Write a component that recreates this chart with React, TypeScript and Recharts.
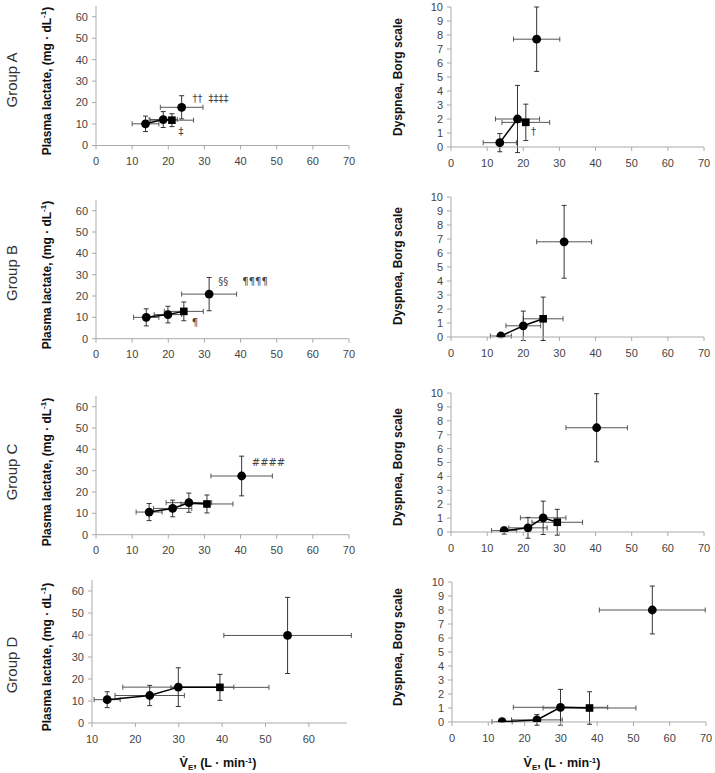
import React from 'react';
import { ScatterChart, Scatter, XAxis, YAxis, ErrorBar } from 'recharts';

type Pt = { x: number; ex: number; y: number; ey: number; phase: string };
type Mark = { x: number; y: number; text: string; anchor: string };

// x: minute ventilation (L/min), y: lactate (mg/dL) or Borg dyspnea
const groupALactate: Pt[] = [
  { x: 13.7, ex: 3.7, y: 10.1, ey: 3.6, phase: 'rest' },
  { x: 18.6, ex: 3.9, y: 12.1, ey: 3.7, phase: 'stage' },
  { x: 21.0, ex: 6.0, y: 11.8, ey: 3.0, phase: 'iso' },
];
const groupALactatePeak: Pt[] = [{ x: 23.7, ex: 5.9, y: 17.8, ey: 5.4, phase: 'peak' }];
const groupALactateMarks: Mark[] = [
  { x: 26.7, y: 22, text: '††', anchor: 'start' },
  { x: 31.1, y: 22, text: '‡‡‡‡', anchor: 'start' },
  { x: 23.5, y: 6.5, text: '‡', anchor: 'middle' },
];

const groupADyspnea: Pt[] = [
  { x: 13.5, ex: 4.6, y: 0.31, ey: 0.65, phase: 'rest' },
  { x: 18.4, ex: 6.1, y: 2.0, ey: 2.4, phase: 'stage' },
  { x: 20.7, ex: 6.6, y: 1.76, ey: 1.3, phase: 'iso' },
];
const groupADyspneaPeak: Pt[] = [{ x: 23.7, ex: 6.4, y: 7.7, ey: 2.3, phase: 'peak' }];
const groupADyspneaMarks: Mark[] = [{ x: 22.8, y: 1.1, text: '†', anchor: 'middle' }];

const groupBLactate: Pt[] = [
  { x: 13.9, ex: 3.5, y: 10.0, ey: 4.0, phase: 'rest' },
  { x: 19.9, ex: 3.8, y: 11.3, ey: 3.9, phase: 'stage' },
  { x: 24.3, ex: 5.4, y: 12.8, ey: 4.4, phase: 'iso' },
];
const groupBLactatePeak: Pt[] = [{ x: 31.3, ex: 7.6, y: 20.9, ey: 7.8, phase: 'peak' }];
const groupBLactateMarks: Mark[] = [
  { x: 33.8, y: 26.6, text: '§§', anchor: 'start' },
  { x: 40.5, y: 26.6, text: '¶¶¶¶', anchor: 'start' },
  { x: 27.4, y: 7.5, text: '¶', anchor: 'middle' },
];

const groupBDyspnea: Pt[] = [
  { x: 13.8, ex: 2.9, y: 0.07, ey: 0.12, phase: 'rest' },
  { x: 20.0, ex: 4.8, y: 0.8, ey: 1.05, phase: 'stage' },
  { x: 25.5, ex: 5.5, y: 1.3, ey: 1.55, phase: 'iso' },
];
const groupBDyspneaPeak: Pt[] = [{ x: 31.3, ex: 7.6, y: 6.8, ey: 2.6, phase: 'peak' }];

const groupCLactate: Pt[] = [
  { x: 14.7, ex: 3.6, y: 10.6, ey: 4.0, phase: 'rest' },
  { x: 21.2, ex: 5.3, y: 12.3, ey: 3.9, phase: 'stage' },
  { x: 25.7, ex: 6.3, y: 15.0, ey: 4.5, phase: 'stage' },
  { x: 30.7, ex: 7.2, y: 14.4, ey: 4.2, phase: 'iso' },
];
const groupCLactatePeak: Pt[] = [{ x: 40.3, ex: 8.5, y: 27.5, ey: 9.3, phase: 'peak' }];
const groupCLactateMarks: Mark[] = [{ x: 43.1, y: 34.0, text: '####', anchor: 'start' }];

const groupCDyspnea: Pt[] = [
  { x: 14.7, ex: 3.5, y: 0.1, ey: 0.25, phase: 'rest' },
  { x: 21.3, ex: 5.3, y: 0.3, ey: 0.75, phase: 'stage' },
  { x: 25.5, ex: 6.3, y: 1.02, ey: 1.2, phase: 'stage' },
  { x: 29.4, ex: 7.0, y: 0.7, ey: 0.93, phase: 'iso' },
];
const groupCDyspneaPeak: Pt[] = [{ x: 40.3, ex: 8.5, y: 7.5, ey: 2.45, phase: 'peak' }];

const groupDLactate: Pt[] = [
  { x: 13.5, ex: 3.0, y: 10.6, ey: 3.6, phase: 'rest' },
  { x: 23.3, ex: 8.0, y: 12.5, ey: 4.6, phase: 'stage' },
  { x: 29.9, ex: 12.8, y: 16.3, ey: 8.8, phase: 'stage' },
  { x: 39.5, ex: 11.3, y: 16.2, ey: 5.9, phase: 'iso' },
];
const groupDLactatePeak: Pt[] = [{ x: 55.1, ex: 14.7, y: 39.8, ey: 17.3, phase: 'peak' }];

const groupDDyspnea: Pt[] = [
  { x: 13.8, ex: 2.8, y: 0.02, ey: 0.05, phase: 'rest' },
  { x: 23.4, ex: 7.0, y: 0.15, ey: 0.38, phase: 'stage' },
  { x: 29.9, ex: 13.0, y: 1.05, ey: 1.28, phase: 'stage' },
  { x: 37.9, ex: 12.8, y: 1.0, ey: 1.16, phase: 'iso' },
];
const groupDDyspneaPeak: Pt[] = [{ x: 55.2, ex: 14.6, y: 8.0, ey: 1.71, phase: 'peak' }];

const xTicks70 = [0, 10, 20, 30, 40, 50, 60, 70];
const xTicksD = [10, 20, 30, 40, 50, 60];
const lactateTicks = [0, 10, 20, 30, 40, 50, 60];
const borgTicks = [0, 1, 2, 3, 4, 5, 6, 7, 8, 9, 10];

const groupNames = ['Group A', 'Group B', 'Group C', 'Group D'];

const FONT = '"Liberation Sans", Arial, sans-serif';
const MARK_FONT = '"DejaVu Sans", sans-serif';

const StageShape = (p: any) => {
  const { cx, cy, payload } = p;
  if (payload && payload.phase === 'iso') {
    return <rect x={cx - 3.8} y={cy - 3.8} width={7.6} height={7.6} fill="#000" />;
  }
  return <circle cx={cx} cy={cy} r={4.4} fill="#000" />;
};

const MarkShape = (p: any) => (
  <text
    x={p.cx}
    y={p.cy}
    textAnchor={p.payload.anchor}
    dominantBaseline="central"
    fontSize={10}
    fill="#444"
    stroke="none"
    fontFamily={MARK_FONT}
  >
    {p.payload.text}
  </text>
);

type PanelProps = {
  stages: Pt[];
  peak: Pt[];
  marks?: Mark[];
  xDomain: [number, number];
  xTicks: number[];
  yDomain: [number, number];
  yTicks: number[];
  plotLeft: number;
  plotRight: number;
  plotTop: number;
  plotBottom: number;
};

const Panel = (props: PanelProps) => {
  const { plotLeft, plotRight, plotTop, plotBottom } = props;
  const left = plotLeft - 60;
  const top = plotTop - 5;
  const width = plotRight + 10 - left;
  const height = plotBottom + 30 - top;
  const tickStyle = { fontSize: 11, fill: '#444', fontFamily: FONT };
  return (
    <div style={{ position: 'absolute', left, top, width, height }}>
      <ScatterChart width={width} height={height} margin={{ top: 5, right: 10, bottom: 0, left: 24 }}>
        <XAxis
          type="number"
          dataKey="x"
          domain={props.xDomain}
          ticks={props.xTicks}
          interval={0}
          allowDataOverflow
          tickSize={4}
          tickMargin={8}
          height={30}
          stroke="#aaa"
          tick={tickStyle}
        />
        <YAxis
          type="number"
          dataKey="y"
          domain={props.yDomain}
          ticks={props.yTicks}
          interval={0}
          allowDataOverflow
          tickSize={4}
          tickMargin={4}
          width={36}
          stroke="#aaa"
          tick={tickStyle}
        />
        <Scatter
          data={props.stages}
          isAnimationActive={false}
          line={{ stroke: '#000', strokeWidth: 1.5 }}
          lineType="joint"
          shape={StageShape}
        >
          <ErrorBar dataKey="ex" direction="x" width={2.5} stroke="#555" strokeWidth={1} isAnimationActive={false} />
          <ErrorBar dataKey="ey" direction="y" width={2.5} stroke="#333" strokeWidth={1} isAnimationActive={false} />
        </Scatter>
        <Scatter data={props.peak} isAnimationActive={false} shape={StageShape}>
          <ErrorBar dataKey="ex" direction="x" width={2.5} stroke="#555" strokeWidth={1} isAnimationActive={false} />
          <ErrorBar dataKey="ey" direction="y" width={2.5} stroke="#333" strokeWidth={1} isAnimationActive={false} />
        </Scatter>
        {props.marks && props.marks.length > 0 && (
          <Scatter data={props.marks} isAnimationActive={false} fill="#444" shape={MarkShape} />
        )}
      </ScatterChart>
    </div>
  );
};

const RotLabel = ({ x, y, children, bold, size }: any) => (
  <text
    transform={`translate(${x},${y}) rotate(-90)`}
    textAnchor="middle"
    dominantBaseline="central"
    fontSize={size}
    fontWeight={bold ? 'bold' : 'normal'}
    fill={bold ? '#111' : '#333'}
    fontFamily={FONT}
  >
    {children}
  </text>
);

const LactateTitle = ({ x, y }: any) => (
  <RotLabel x={x} y={y} bold size={12}>
    Plasma lactate, (mg · dL
    <tspan dy={-4} fontSize={8}>-1</tspan>
    <tspan dy={4}>)</tspan>
  </RotLabel>
);

const BorgTitle = ({ x, y }: any) => (
  <RotLabel x={x} y={y} bold size={12}>
    Dyspnea,  Borg scale
  </RotLabel>
);

const VeTitle = ({ x, y }: any) => (
  <text x={x} y={y} textAnchor="middle" fontSize={12.5} fontWeight="bold" fill="#111" fontFamily={FONT}>
    V̇
    <tspan dy={3} fontSize={8}>E</tspan>
    <tspan dy={-3}>, (L · min</tspan>
    <tspan dy={-4} fontSize={8}>-1</tspan>
    <tspan dy={4}>)</tspan>
  </text>
);

export default function App() {
  const groupY = [80, 273, 472, 665];
  return (
    <div style={{ position: 'absolute', left: 0, top: 0, width: 715, height: 773, background: '#fff', overflow: 'hidden' }}>
      <Panel stages={groupALactate} peak={groupALactatePeak} marks={groupALactateMarks}
        xDomain={[0, 70]} xTicks={xTicks70} yDomain={[0, 65]} yTicks={lactateTicks}
        plotLeft={96} plotRight={349} plotTop={5.5} plotBottom={145} />
      <Panel stages={groupADyspnea} peak={groupADyspneaPeak} marks={groupADyspneaMarks}
        xDomain={[0, 70]} xTicks={xTicks70} yDomain={[0, 10]} yTicks={borgTicks}
        plotLeft={451} plotRight={704} plotTop={7} plotBottom={147} />
      <Panel stages={groupBLactate} peak={groupBLactatePeak} marks={groupBLactateMarks}
        xDomain={[0, 70]} xTicks={xTicks70} yDomain={[0, 65]} yTicks={lactateTicks}
        plotLeft={96} plotRight={349} plotTop={200.3} plotBottom={339} />
      <Panel stages={groupBDyspnea} peak={groupBDyspneaPeak}
        xDomain={[0, 70]} xTicks={xTicks70} yDomain={[0, 10]} yTicks={borgTicks}
        plotLeft={451} plotRight={704} plotTop={197} plotBottom={337} />
      <Panel stages={groupCLactate} peak={groupCLactatePeak} marks={groupCLactateMarks}
        xDomain={[0, 70]} xTicks={xTicks70} yDomain={[0, 65]} yTicks={lactateTicks}
        plotLeft={96} plotRight={349} plotTop={396.3} plotBottom={535} />
      <Panel stages={groupCDyspnea} peak={groupCDyspneaPeak}
        xDomain={[0, 70]} xTicks={xTicks70} yDomain={[0, 10]} yTicks={borgTicks}
        plotLeft={451} plotRight={704} plotTop={393} plotBottom={532} />
      <Panel stages={groupDLactate} peak={groupDLactatePeak}
        xDomain={[10, 68.8]} xTicks={xTicksD} yDomain={[0, 65]} yTicks={lactateTicks}
        plotLeft={92} plotRight={347} plotTop={580} plotBottom={723} />
      <Panel stages={groupDDyspnea} peak={groupDDyspneaPeak}
        xDomain={[0, 70]} xTicks={xTicks70} yDomain={[0, 10]} yTicks={borgTicks}
        plotLeft={452} plotRight={706} plotTop={582} plotBottom={722} />
      <svg width={715} height={773} style={{ position: 'absolute', left: 0, top: 0, pointerEvents: 'none' }}>
        {groupNames.map((g, i) => (
          <RotLabel key={g} x={11} y={groupY[i]} size={15}>{g}</RotLabel>
        ))}
        <LactateTitle x={47} y={81} />
        <LactateTitle x={47} y={275} />
        <LactateTitle x={47} y={472} />
        <LactateTitle x={47} y={657} />
        <BorgTitle x={398} y={77} />
        <BorgTitle x={398} y={266} />
        <BorgTitle x={398} y={467} />
        <BorgTitle x={398} y={647} />
        <VeTitle x={218} y={767} />
        <VeTitle x={562} y={767} />
      </svg>
    </div>
  );
}
